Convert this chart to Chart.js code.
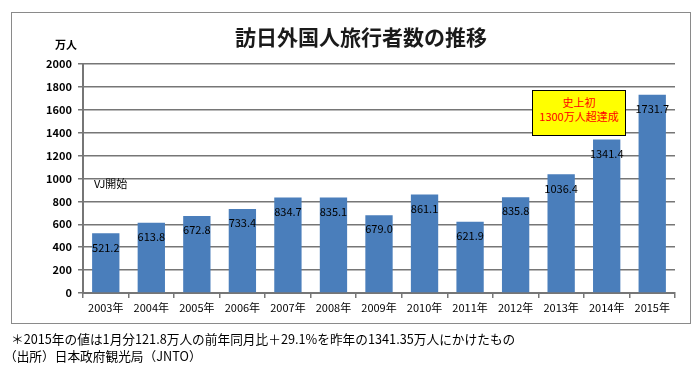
<!DOCTYPE html>
<html>
<head>
  <meta charset="utf-8">
  <title>訪日外国人旅行者数の推移</title>
  <script src="https://cdn.jsdelivr.net/npm/chart.js"></script>
  <style>
    body {
      margin: 0;
      background-color: #FFFFFF;
      font-family: "Noto Sans CJK JP", sans-serif;
    }

    .wrap {
      position: relative;
      width: 699px;
      height: 373px;
    }

    .frame {
      position: absolute;
      left: 11px;
      top: 12px;
      width: 678px;
      height: 310px;
      border: 1px solid #8a8a8a;
    }

    #title {
      position: absolute;
      left: 0;
      width: 722px;
      top: 21px;
      text-align: center;
      font-size: 21px;
      font-weight: bold;
      color: #1a1a1a;
    }

    #unit {
      position: absolute;
      left: 55px;
      top: 36px;
      font-size: 11px;
      font-weight: bold;
    }

    #vj {
      position: absolute;
      left: 94px;
      top: 175px;
      font-size: 11px;
    }

    #note {
      position: absolute;
      left: 532px;
      top: 90px;
      width: 92px;
      height: 40px;
      background-color: #FFFF00;
      border: 1.5px solid #000000;
      color: #FF0000;
      font-size: 11px;
      line-height: 14px;
      text-align: center;
      padding-top: 4px;
      box-sizing: content-box;
    }

    .foot {
      position: absolute;
      left: 8px;
      font-size: 12.7px;
      color: #000000;
      white-space: nowrap;
    }

    canvas {
      position: absolute;
      left: 0;
      top: 0;
    }
  </style>
</head>
<body>
  <div class="wrap">
    <div class="frame"></div>
    <canvas id="visitorChart" width="699" height="373"></canvas>
    <div id="title">訪日外国人旅行者数の推移</div>
    <div id="unit">万人</div>
    <div id="vj">VJ開始</div>
    <div id="note">史上初<br>1300万人超達成</div>
    <div class="foot" style="top: 329px; left: 11px;">＊2015年の値は1月分121.8万人の前年同月比＋29.1%を昨年の1341.35万人にかけたもの</div>
    <div class="foot" style="top: 346px; left: 4px;">（出所）日本政府観光局（JNTO）</div>
  </div>

  <script>
    const years = ['2003年', '2004年', '2005年', '2006年', '2007年', '2008年', '2009年',
                   '2010年', '2011年', '2012年', '2013年', '2014年', '2015年'];
    const visitors = [521.2, 613.8, 672.8, 733.4, 834.7, 835.1, 679.0,
                      861.1, 621.9, 835.8, 1036.4, 1341.4, 1731.7];
    const yTicks = [0, 200, 400, 600, 800, 1000, 1200, 1400, 1600, 1800, 2000];

    // write the value just under the top of each bar
    const barLabels = {
      id: 'barLabels',
      afterDatasetsDraw(chart) {
        const ctx = chart.ctx;
        const meta = chart.getDatasetMeta(0);
        ctx.save();
        ctx.font = '11px "Noto Sans CJK JP", sans-serif';
        ctx.fillStyle = '#000000';
        ctx.textAlign = 'center';
        ctx.textBaseline = 'middle';
        meta.data.forEach((bar, i) => {
          ctx.fillText(visitors[i].toFixed(1), bar.x, bar.y + 14);
        });
        ctx.restore();
      }
    };

    const ctx = document.getElementById('visitorChart').getContext('2d');
    new Chart(ctx, {
      type: 'bar',
      data: {
        labels: years,
        datasets: [{
          data: visitors,
          backgroundColor: '#4a7ebb',
          categoryPercentage: 1,
          barPercentage: 0.6,
        }],
      },
      options: {
        responsive: false,
        animation: false,
        layout: {
          padding: { left: 40, top: 64, right: 24, bottom: 50 },
        },
        plugins: {
          legend: { display: false },
          tooltip: { enabled: false },
        },
        scales: {
          y: {
            min: 0,
            max: 2000,
            afterFit: (s) => { s.width = 43; },
            afterBuildTicks: (s) => { s.ticks = yTicks.map((v) => ({ value: v })); },
            grid: {
              color: '#767676',
              lineWidth: 1.5,
              tickLength: 5,
            },
            border: { color: '#767676', width: 2 },
            ticks: {
              color: '#000000',
              padding: 6,
              callback: (v) => String(v),
              font: { size: 11, weight: 'bold', family: '"Noto Sans CJK JP", sans-serif' },
            },
          },
          x: {
            afterFit: (s) => { s.height = 30; },
            grid: {
              drawOnChartArea: false,
              color: '#767676',
              tickLength: 5,
              lineWidth: 1.5,
            },
            border: { color: '#767676', width: 2 },
            ticks: {
              color: '#000000',
              padding: 3,
              maxRotation: 0,
              autoSkip: false,
              font: { size: 11, family: '"Noto Sans CJK JP", sans-serif' },
            },
          },
        },
      },
      plugins: [barLabels],
    });
  </script>
</body>
</html>
